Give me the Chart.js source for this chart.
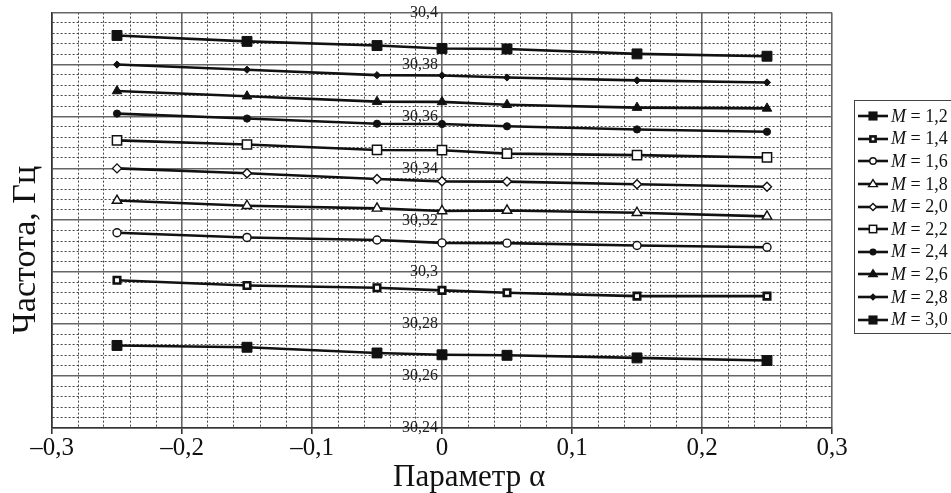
<!DOCTYPE html>
<html>
<head>
<meta charset="utf-8">
<script src="https://cdn.jsdelivr.net/npm/chart.js@4.4.0/dist/chart.umd.min.js"></script>
<style>
  body { margin: 0; background: #fff; }
  #wrap { position: relative; width: 951px; height: 493px; }
  #legend {
    position: absolute; left: 854px; top: 100px; width: 100px; height: 234px;
    border: 1.5px solid #444; box-sizing: border-box; padding: 4px 0 0 3px;
    font-family: "Liberation Serif", serif; font-size: 18px; color: #111;
  }
  .row { height: 22.6px; display: flex; align-items: center; white-space: nowrap; }
  .row svg { margin-right: 3px; }
</style>
</head>
<body>
<div id="wrap">
  <canvas id="chart" width="951" height="493"></canvas>
  <div id="legend"></div>
</div>
<script>
// parameter alpha values (x)
const alphaValues = [-0.25, -0.15, -0.05, 0, 0.05, 0.15, 0.25];

// frequency, Hz, for each M
const seriesNames = ['1,2', '1,4', '1,6', '1,8', '2,0', '2,2', '2,4', '2,6', '2,8', '3,0'];
const m12 = [30.2718, 30.2711, 30.2689, 30.2682, 30.2680, 30.2670, 30.2660];
const m14 = [30.2969, 30.2949, 30.2940, 30.2930, 30.2921, 30.2908, 30.2908];
const m16 = [30.3152, 30.3134, 30.3124, 30.3113, 30.3112, 30.3103, 30.3096];
const m18 = [30.3276, 30.3256, 30.3246, 30.3236, 30.3238, 30.3229, 30.3215];
const m20 = [30.3400, 30.3381, 30.3359, 30.3350, 30.3349, 30.3339, 30.3329];
const m22 = [30.3508, 30.3492, 30.3471, 30.3470, 30.3457, 30.3451, 30.3442];
const m24 = [30.3611, 30.3592, 30.3572, 30.3571, 30.3562, 30.3550, 30.3541];
const m26 = [30.3698, 30.3678, 30.3657, 30.3656, 30.3645, 30.3634, 30.3631];
const m28 = [30.3800, 30.3780, 30.3759, 30.3758, 30.3750, 30.3739, 30.3731];
const m30 = [30.3912, 30.3889, 30.3873, 30.3862, 30.3860, 30.3841, 30.3832];
const seriesValues = [m12, m14, m16, m18, m20, m22, m24, m26, m28, m30];

// axis ticks
const xTicks = [-0.3, -0.2, -0.1, 0, 0.1, 0.2, 0.3];
const xTickLabels = ['\u20130,3', '\u20130,2', '\u20130,1', '0', '0,1', '0,2', '0,3'];
const yTicks = [30.24, 30.26, 30.28, 30.3, 30.32, 30.34, 30.36, 30.38, 30.4];
const yTickLabels = ['30,24', '30,26', '30,28', '30,3', '30,32', '30,34', '30,36', '30,38', '30,4'];
const xMinorPerMajor = 5;
const yMinorPerMajor = 5;

// marker look for each series
const markers = [
  { style: 'rect',     radius: 7,   fill: '#111', border: 1 },
  { style: 'rect',     radius: 4.6, fill: '#fff', border: 2.6 },
  { style: 'circle',   radius: 4,   fill: '#fff', border: 1.4 },
  { style: 'triangle', radius: 5.5, fill: '#fff', border: 1.4 },
  { style: 'rectRot',  radius: 4.5, fill: '#fff', border: 1.4 },
  { style: 'rect',     radius: 6.5, fill: '#fff', border: 1.5 },
  { style: 'circle',   radius: 3.6, fill: '#111', border: 1 },
  { style: 'triangle', radius: 5.5, fill: '#111', border: 1 },
  { style: 'rectRot',  radius: 3.6, fill: '#111', border: 1 },
  { style: 'rect',     radius: 7,   fill: '#111', border: 1 }
];

const serif = '"Liberation Serif", "Times New Roman", serif';

function subdivide(majors, n) {
  const out = [];
  for (let i = 0; i < majors.length - 1; i++) {
    const step = (majors[i + 1] - majors[i]) / n;
    for (let k = 0; k < n; k++) out.push({ value: majors[i] + k * step, major: k === 0 });
  }
  out.push({ value: majors[majors.length - 1], major: true });
  return out;
}
const xGrid = subdivide(xTicks, xMinorPerMajor);
const yGrid = subdivide(yTicks, yMinorPerMajor);

const isMajor = (ctx) => ctx.tick ? !!ctx.tick.major : true;

const datasets = seriesValues.map((vals, i) => ({
  label: 'M = ' + seriesNames[i],
  data: alphaValues.map((a, j) => ({ x: a, y: vals[j] })),
  showLine: true,
  borderColor: '#111',
  borderWidth: 2.6,
  pointStyle: markers[i].style,
  pointRadius: markers[i].radius,
  pointBackgroundColor: markers[i].fill,
  pointBorderColor: '#111',
  pointBorderWidth: markers[i].border,
  tension: 0
}));

new Chart(document.getElementById('chart'), {
  type: 'scatter',
  data: { datasets: datasets },
  options: {
    responsive: false,
    animation: false,
    layout: { padding: { left: 9, right: 119, top: 11, bottom: 0 } },
    plugins: { legend: { display: false }, tooltip: { enabled: false } },
    scales: {
      x: {
        type: 'linear',
        min: xTicks[0],
        max: xTicks[xTicks.length - 1],
        afterBuildTicks: (axis) => { axis.ticks = xGrid.map(t => ({ value: t.value, major: t.major })); },
        ticks: {
          autoSkip: false,
          maxRotation: 0,
          padding: 2,
          color: '#111',
          font: { family: serif, size: 25, lineHeight: 0.96 },
          callback: (value) => {
            const i = xTicks.findIndex(t => Math.abs(t - value) < 1e-9);
            return i >= 0 ? xTickLabels[i] : '';
          }
        },
        grid: {
          color: (ctx) => isMajor(ctx) ? '#666' : '#444',
          lineWidth: (ctx) => isMajor(ctx) ? 1.6 : 1,
          tickLength: 6,
          tickColor: (ctx) => isMajor(ctx) ? '#333' : 'rgba(0,0,0,0)',
          tickBorderDash: []
        },
        border: { display: true, color: '#333', width: 1.6, dash: (ctx) => isMajor(ctx) ? [] : [2, 2] },
        title: {
          display: true,
          // leading spaces push the title a bit right, as in the original
          text: '       Параметр α',
          color: '#111',
          font: { family: serif, size: 31, lineHeight: 1 },
          padding: { top: 0, bottom: 0 }
        }
      },
      y: {
        type: 'linear',
        position: 'left',
        min: yTicks[0],
        max: yTicks[yTicks.length - 1],
        afterBuildTicks: (axis) => { axis.ticks = yGrid.map(t => ({ value: t.value, major: t.major })); },
        ticks: { display: false },
        grid: {
          color: (ctx) => isMajor(ctx) ? '#666' : '#444',
          lineWidth: (ctx) => isMajor(ctx) ? 1.6 : 1,
          drawTicks: false
        },
        border: { display: true, color: '#333', width: 1.6, dash: (ctx) => isMajor(ctx) ? [] : [2, 2] },
        title: {
          display: true,
          // trailing spaces push the title down, as in the original
          text: 'Частота, Гц       ',
          color: '#111',
          font: { family: serif, size: 34, lineHeight: 1 },
          padding: { top: 0, bottom: 9 }
        }
      },
      yc: {
        type: 'linear',
        axis: 'y',
        position: { x: -0.003 },
        min: yTicks[0],
        max: yTicks[yTicks.length - 1],
        afterBuildTicks: (axis) => { axis.ticks = yTicks.map(v => ({ value: v })); },
        grid: { display: false },
        border: { display: false },
        ticks: {
          padding: 3,
          color: '#222',
          font: { family: serif, size: 16 },
          callback: (value) => {
            const i = yTicks.findIndex(t => Math.abs(t - value) < 1e-9);
            return i >= 0 ? yTickLabels[i] : '';
          }
        }
      }
    }
  }
});

// legend with italic M
function markerSvg(m) {
  const cx = 15, cy = 7;
  const fill = m.fill, sw = Math.max(m.border, 1.2);
  const r = m.radius * 0.8;
  if (m.style === 'rect') {
    const s = r * Math.SQRT1_2;
    return `<rect x="${cx - s}" y="${cy - s}" width="${2 * s}" height="${2 * s}" fill="${fill}" stroke="#111" stroke-width="${sw}"/>`;
  }
  if (m.style === 'circle') {
    return `<circle cx="${cx}" cy="${cy}" r="${r}" fill="${fill}" stroke="#111" stroke-width="${sw}"/>`;
  }
  if (m.style === 'triangle') {
    return `<polygon points="${cx},${cy - r} ${cx + r},${cy + r * 0.6} ${cx - r},${cy + r * 0.6}" fill="${fill}" stroke="#111" stroke-width="${sw}"/>`;
  }
  return `<polygon points="${cx},${cy - r} ${cx + r},${cy} ${cx},${cy + r} ${cx - r},${cy}" fill="${fill}" stroke="#111" stroke-width="${sw}"/>`;
}

const legend = document.getElementById('legend');
seriesNames.forEach((name, i) => {
  const row = document.createElement('div');
  row.className = 'row';
  row.innerHTML = `<svg width="30" height="14"><line x1="0" y1="7" x2="30" y2="7" stroke="#111" stroke-width="2.6"/>${markerSvg(markers[i])}</svg><span><i>M</i> = ${name}</span>`;
  legend.appendChild(row);
});
</script>
</body>
</html>
